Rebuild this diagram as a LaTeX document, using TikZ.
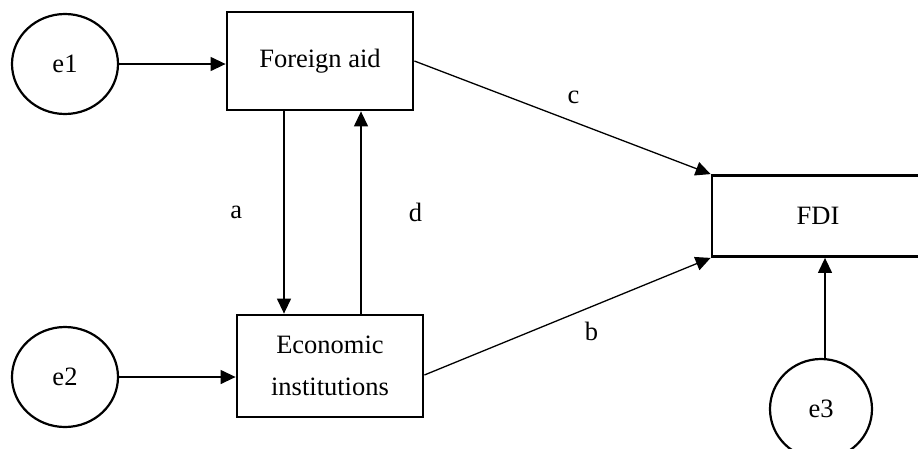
\documentclass[tikz,border=0pt]{standalone}
\usepackage{fontspec}
\setmainfont{Liberation Serif}
\usetikzlibrary{shapes.geometric,arrows.meta}
\begin{document}
\begin{tikzpicture}[
	x=1pt,y=-1pt,
	>={Triangle[length=15pt,width=14pt]},
	line join=miter,
	font=\fontsize{26.5}{42}\selectfont,
	var/.style={draw,line width=2.8pt,inner sep=0pt,align=center},
	err/.style={draw,ellipse,line width=2.2pt,inner sep=0pt},
	path/.style={->,line width=1.3pt}
	]
	\useasboundingbox (0,0) rectangle (918,448);
	% observed variables
	\node[var,minimum width=186,minimum height=98] (aid) at (320,61) {Foreign aid};
	\node[var,minimum width=186,minimum height=102] (inst) at (330,366) {Economic\\institutions};
	\node[var,minimum width=212,minimum height=81] (fdi) at (818,216) {FDI};
	% error terms
	\node[err,minimum width=106,minimum height=100] (e1) at (65,64) {e1};
	\node[err,minimum width=106,minimum height=100] (e2) at (65,377) {e2};
	\node[err,minimum width=102,minimum height=100] (e3) at (821,409) {e3};
	\begin{scope}[path]
		\draw (e1.east) -- (e1.east -| aid.west);
		\draw (e2.east) -- (e2.east -| inst.west);
		\draw ([xshift=4]e3.north) -- ([xshift=4]e3.north |- fdi.south);
		\draw ([xshift=-36]aid.south) -- ([xshift=-36]aid.south |- inst.north) node[midway,left=38pt] {a};
		\draw ([xshift=31]inst.north) -- ([xshift=31]inst.north |- aid.south) node[midway,right=44pt] {d};
		\draw (aid.east) -- (fdi.north west) node[midway,xshift=11,yshift=20] {c};
		\draw ([yshift=-9]inst.east) -- (fdi.south west) node[midway,xshift=24,yshift=-15] {b};
	\end{scope}
\end{tikzpicture}
\end{document}
